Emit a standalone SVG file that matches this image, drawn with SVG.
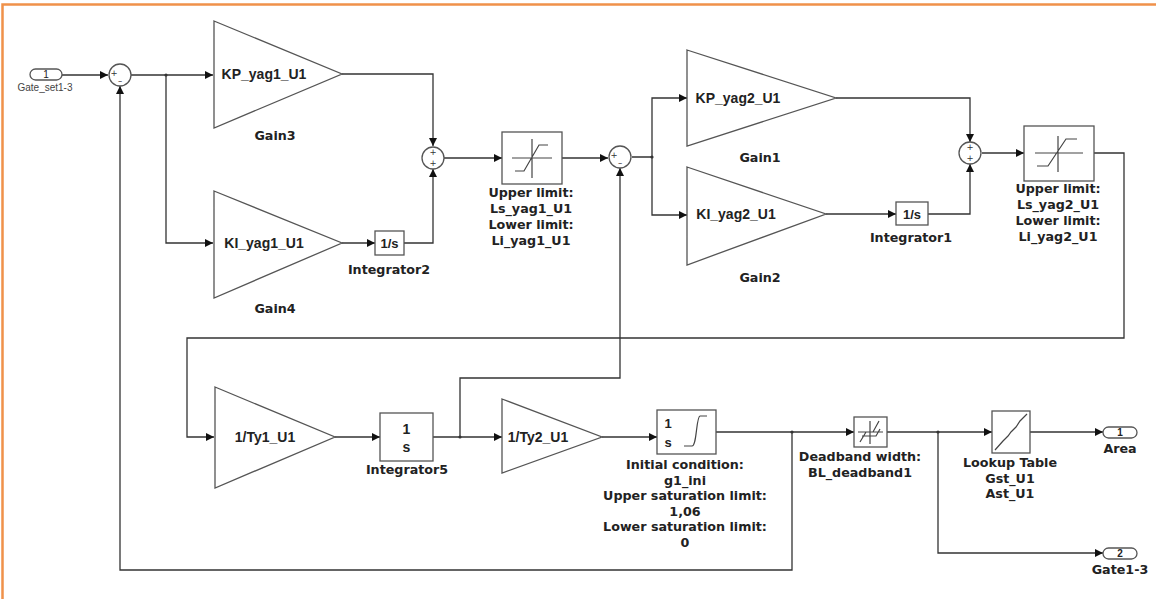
<svg xmlns="http://www.w3.org/2000/svg" width="1156" height="599" viewBox="0 0 1156 599">
<defs>
<style>
.blk{fill:#fff;stroke:#555;stroke-width:1.3}
.ico{fill:none;stroke:#444;stroke-width:1.2}
.w{fill:none;stroke:#333;stroke-width:1.3}
.lbl{font-family:"DejaVu Sans",sans-serif;font-weight:bold;font-size:12.7px;fill:#222;text-anchor:middle}
.in{font-family:"Liberation Sans",Arial,sans-serif;font-weight:bold;font-size:14px;fill:#222;text-anchor:middle}
.sg{font-family:"DejaVu Sans",sans-serif;font-size:8.5px;fill:#333;text-anchor:middle}
.pn{font-family:"Liberation Sans",Arial,sans-serif;font-size:10px;fill:#222;text-anchor:middle}
.dot{fill:#333}
</style>
<marker id="ah" viewBox="0 0 10 10" refX="10" refY="5" markerWidth="9" markerHeight="8" markerUnits="userSpaceOnUse" orient="auto">
<path d="M0,0 L10,5 L0,10 z" fill="#111"/>
</marker>
</defs>
<rect width="1156" height="599" fill="#fff"/>
<path d="M2.5,599 V4.5 H1156" fill="none" stroke="#f0914a" stroke-width="2.5"/>

<g id="connectors">
<path class="w" d="M62,75 H108" marker-end="url(#ah)"/>
<path class="w" d="M131,75 H213" marker-end="url(#ah)"/>
<path class="w" d="M166,75 V243 H213" marker-end="url(#ah)"/>
<path class="w" d="M342,74 H433 V146" marker-end="url(#ah)"/>
<path class="w" d="M342,243 H375" marker-end="url(#ah)"/>
<path class="w" d="M404,243 H433 V169" marker-end="url(#ah)"/>
<path class="w" d="M444,158 H502" marker-end="url(#ah)"/>
<path class="w" d="M562,158 H608" marker-end="url(#ah)"/>
<path class="w" d="M632,157 H652 V98 H687" marker-end="url(#ah)"/>
<path class="w" d="M652,157 V215 H687" marker-end="url(#ah)"/>
<path class="w" d="M836,98 H970 V142" marker-end="url(#ah)"/>
<path class="w" d="M826,214 H896" marker-end="url(#ah)"/>
<path class="w" d="M928,214 H970 V164" marker-end="url(#ah)"/>
<path class="w" d="M982,153 H1024" marker-end="url(#ah)"/>
<path class="w" d="M1094,153 H1124 V338 H187 V437 H214" marker-end="url(#ah)"/>
<path class="w" d="M335,437 H380" marker-end="url(#ah)"/>
<path class="w" d="M433,437 H502" marker-end="url(#ah)"/>
<path class="w" d="M460,437 V378 H620 V168" marker-end="url(#ah)"/>
<path class="w" d="M602,437 H657" marker-end="url(#ah)"/>
<path class="w" d="M716,432 H854" marker-end="url(#ah)"/>
<path class="w" d="M792,432 V570 H120 V86" marker-end="url(#ah)"/>
<path class="w" d="M887,432 H992" marker-end="url(#ah)"/>
<path class="w" d="M938,432 V553 H1103" marker-end="url(#ah)"/>
<path class="w" d="M1030,432 H1103" marker-end="url(#ah)"/>
<circle class="dot" cx="166" cy="75" r="1.6"/>
<circle class="dot" cx="652" cy="157" r="1.6"/>
<circle class="dot" cx="460" cy="437" r="1.6"/>
<circle class="dot" cx="792" cy="432" r="1.6"/>
<circle class="dot" cx="938" cy="432" r="1.6"/>
</g>

<g id="in1">
<rect class="blk" x="30" y="69" width="32" height="11" rx="5.5"/>
<text class="pn" x="46" y="78">1</text>
<text class="pn" x="45" y="91" style="fill:#444">Gate_set1-3</text>
</g>

<g id="sum1">
<circle class="blk" cx="120" cy="75" r="11"/>
<text class="sg" x="114" y="76">+</text>
<text class="sg" x="120" y="84">–</text>
</g>

<g id="gain3">
<path class="blk" d="M214,21 L342,74 L214,128 z"/>
<text class="in" x="264" y="79">KP_yag1_U1</text>
<text class="lbl" x="275" y="140">Gain3</text>
</g>

<g id="gain4">
<path class="blk" d="M214,191 L342,243 L214,298 z"/>
<text class="in" x="264" y="248">KI_yag1_U1</text>
<text class="lbl" x="275" y="313">Gain4</text>
</g>

<g id="integrator2">
<rect class="blk" x="375" y="231" width="29" height="24"/>
<text class="in" x="389.5" y="248" style="font-size:13px">1/s</text>
<text class="lbl" x="389" y="274">Integrator2</text>
</g>

<g id="sum2">
<circle class="blk" cx="433" cy="158" r="11"/>
<text class="sg" x="433" y="155">+</text>
<text class="sg" x="433" y="166">+</text>
</g>

<g id="sat1">
<rect class="blk" x="502" y="132" width="60" height="52"/>
<path class="ico" d="M512,158 H552 M532,139 V178 M515,171 H524 L539,145 H548"/>
<text class="lbl" x="531" y="197">Upper limit:</text>
<text class="lbl" x="531" y="213">Ls_yag1_U1</text>
<text class="lbl" x="531" y="229">Lower limit:</text>
<text class="lbl" x="531" y="245">Li_yag1_U1</text>
</g>

<g id="sum3">
<circle class="blk" cx="620" cy="157" r="11"/>
<text class="sg" x="614" y="158">+</text>
<text class="sg" x="620" y="166">–</text>
</g>

<g id="gain1">
<path class="blk" d="M687,50 L836,98 L687,146 z"/>
<text class="in" x="738" y="103">KP_yag2_U1</text>
<text class="lbl" x="760" y="162">Gain1</text>
</g>

<g id="gain2">
<path class="blk" d="M687,167 L826,214 L687,265 z"/>
<text class="in" x="736" y="219">KI_yag2_U1</text>
<text class="lbl" x="760" y="282">Gain2</text>
</g>

<g id="integrator1">
<rect class="blk" x="896" y="202" width="32" height="23"/>
<text class="in" x="912" y="219" style="font-size:13px">1/s</text>
<text class="lbl" x="911" y="242">Integrator1</text>
</g>

<g id="sum4">
<circle class="blk" cx="970" cy="153" r="11"/>
<text class="sg" x="970" y="150">+</text>
<text class="sg" x="970" y="161">+</text>
</g>

<g id="sat2">
<rect class="blk" x="1024" y="126" width="70" height="55"/>
<path class="ico" d="M1035,153 H1083 M1058,136 V172 M1037,166 H1048 L1066,139 H1077"/>
<text class="lbl" x="1058" y="193">Upper limit:</text>
<text class="lbl" x="1058" y="209">Ls_yag2_U1</text>
<text class="lbl" x="1058" y="225">Lower limit:</text>
<text class="lbl" x="1058" y="241">Li_yag2_U1</text>
</g>

<g id="gainTy1">
<path class="blk" d="M215,387 L335,437 L215,488 z"/>
<text class="in" x="265" y="442">1/Ty1_U1</text>
</g>

<g id="integrator5">
<rect class="blk" x="380" y="413" width="53" height="48"/>
<text class="in" x="406.5" y="434" style="font-size:14px">1</text>
<text class="in" x="406.5" y="452" style="font-size:14px">s</text>
<text class="lbl" x="407" y="474">Integrator5</text>
</g>

<g id="gainTy2">
<path class="blk" d="M502,399 L602,437 L502,473 z"/>
<text class="in" x="538" y="442">1/Ty2_U1</text>
</g>

<g id="limint">
<rect class="blk" x="657" y="410" width="59" height="44"/>
<text class="in" x="668" y="428" style="font-size:13px">1</text>
<text class="in" x="668" y="447" style="font-size:13px">s</text>
<path class="ico" d="M684,446 H692 C697,446 696,417 700,416 H707"/>
<text class="lbl" x="685" y="469">Initial condition:</text>
<text class="lbl" x="685" y="485">g1_ini</text>
<text class="lbl" x="685" y="500">Upper saturation limit:</text>
<text class="lbl" x="685" y="516">1,06</text>
<text class="lbl" x="685" y="531">Lower saturation limit:</text>
<text class="lbl" x="685" y="547">0</text>
</g>

<g id="deadband">
<rect class="blk" x="854" y="417" width="33" height="30"/>
<path class="ico" d="M858,432 H883 M870,421 V444 M860,442 L866,432 H873 L879,421 M862,436 H876 L880,429"/>
<text class="lbl" x="860" y="461">Deadband width:</text>
<text class="lbl" x="860" y="477">BL_deadband1</text>
</g>

<g id="lookup">
<rect class="blk" x="992" y="411" width="38" height="42"/>
<path class="ico" d="M995,450 L1003,441 L1008,436 L1011,432 L1016,427 L1020,421 L1027,414"/>
<text class="lbl" x="1010" y="467">Lookup Table</text>
<text class="lbl" x="1010" y="483">Gst_U1</text>
<text class="lbl" x="1010" y="498">Ast_U1</text>
</g>

<g id="out1">
<rect class="blk" x="1103" y="427" width="34" height="11" rx="5.5"/>
<text class="pn" x="1120" y="436" style="font-weight:bold">1</text>
<text class="lbl" x="1120" y="453">Area</text>
</g>

<g id="out2">
<rect class="blk" x="1103" y="548" width="34" height="11" rx="5.5"/>
<text class="pn" x="1120" y="557" style="font-weight:bold">2</text>
<text class="lbl" x="1120" y="574">Gate1-3</text>
</g>
</svg>
